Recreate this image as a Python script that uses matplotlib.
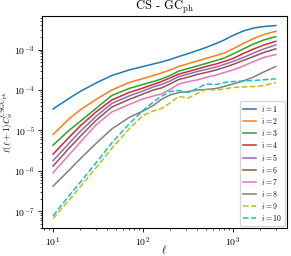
import numpy as np
import matplotlib
matplotlib.use("Agg")
import matplotlib.pyplot as plt

plt.rcParams['font.family'] = 'serif'
plt.rcParams['font.serif'] = ['cmr10', 'DejaVu Serif']
plt.rcParams['mathtext.fontset'] = 'cm'
plt.rcParams['axes.formatter.use_mathtext'] = True

# multipoles
ell = [10, 15, 20, 30, 45, 70, 100, 130, 160, 200, 250, 320, 400, 500,
       650, 800, 1000, 1300, 1700, 2200, 3000]

# l(l+1) C_ii for each tomographic bin
c1 = [3.40e-5, 6.17e-5, 9.18e-5, 1.49e-4, 2.28e-4, 3.12e-4, 3.80e-4, 4.39e-4, 4.91e-4, 5.66e-4,
      6.71e-4, 7.96e-4, 9.44e-4, 1.12e-3, 1.41e-3, 1.72e-3, 2.22e-3, 2.86e-3, 3.40e-3, 3.70e-3, 3.92e-3]
c2 = [7.96e-6, 1.92e-5, 3.21e-5, 5.83e-5, 1.00e-4, 1.53e-4, 1.92e-4, 2.28e-4, 2.63e-4, 3.12e-4,
      3.80e-4, 4.51e-4, 5.20e-4, 6.00e-4, 7.11e-4, 8.20e-4, 1.04e-3, 1.41e-3, 1.87e-3, 2.34e-3, 2.83e-3]
c3 = [4.34e-6, 1.00e-5, 1.67e-5, 3.49e-5, 7.31e-5, 1.09e-4, 1.37e-4, 1.62e-4, 1.87e-4, 2.28e-4,
      2.94e-4, 3.40e-4, 3.92e-4, 4.51e-4, 5.36e-4, 6.17e-4, 7.74e-4, 1.03e-3, 1.37e-3, 1.72e-3, 2.09e-3]
c4 = [2.60e-6, 6.71e-6, 1.29e-5, 2.86e-5, 5.66e-5, 8.67e-5, 1.12e-4, 1.37e-4, 1.62e-4, 1.98e-4,
      2.48e-4, 2.86e-4, 3.30e-4, 3.80e-4, 4.39e-4, 5.06e-4, 6.00e-4, 7.96e-4, 1.03e-3, 1.29e-3, 1.60e-3]
c5 = [1.79e-6, 4.77e-6, 9.44e-6, 2.22e-5, 4.65e-5, 7.11e-5, 9.44e-5, 1.19e-4, 1.37e-4, 1.67e-4,
      2.15e-4, 2.48e-4, 2.86e-4, 3.21e-4, 3.70e-4, 4.27e-4, 5.06e-4, 6.35e-4, 8.20e-4, 1.03e-3, 1.31e-3]
c6 = [1.32e-6, 3.60e-6, 7.11e-6, 1.77e-5, 3.80e-5, 5.83e-5, 7.96e-5, 1.00e-4, 1.12e-4, 1.41e-4,
      1.82e-4, 2.09e-4, 2.42e-4, 2.70e-4, 3.12e-4, 3.60e-4, 4.27e-4, 5.36e-4, 6.71e-4, 8.43e-4, 1.04e-3]
c7 = [9.04e-7, 2.48e-6, 5.06e-6, 1.37e-5, 2.86e-5, 4.39e-5, 6.00e-5, 7.11e-5, 7.96e-5, 1.03e-4,
      1.41e-4, 1.62e-4, 1.77e-4, 2.04e-4, 2.34e-4, 2.70e-4, 3.12e-4, 3.92e-4, 5.06e-4, 6.35e-4, 7.53e-4]
c8 = [4.22e-7, 1.03e-6, 1.98e-6, 4.77e-6, 1.09e-5, 2.09e-5, 3.03e-5, 4.14e-5, 5.83e-5, 7.53e-5,
      8.67e-5, 9.18e-5, 1.00e-4, 1.03e-4, 1.09e-4, 1.22e-4, 1.41e-4, 1.67e-4, 2.09e-4, 2.79e-4, 3.80e-4]
c9 = [6.71e-8, 1.87e-7, 4.03e-7, 1.19e-6, 3.60e-6, 1.09e-5, 2.34e-5, 3.03e-5, 3.49e-5, 4.77e-5,
      6.92e-5, 6.35e-5, 8.20e-5, 1.03e-4, 1.00e-4, 1.06e-4, 1.15e-4, 1.19e-4, 1.22e-4, 1.29e-4, 1.53e-4]
c10 = [7.80e-8, 2.42e-7, 5.20e-7, 1.58e-6, 4.92e-6, 1.45e-5, 3.12e-5, 5.06e-5, 6.92e-5, 9.18e-5,
       9.73e-5, 8.67e-5, 1.09e-4, 1.41e-4, 1.37e-4, 1.53e-4, 1.62e-4, 1.67e-4, 1.72e-4, 1.79e-4, 1.89e-4]

series = [c1, c2, c3, c4, c5, c6, c7, c8, c9, c10]
colors = ['C0', 'C1', 'C2', 'C3', 'C4', 'C5', 'C6', 'C7', 'C8', 'C9']

fig = plt.figure(figsize=(2.91, 2.56), dpi=100)
ax = fig.add_axes([0.144, 0.109, 0.842, 0.829])

for i, (c, col) in enumerate(zip(series, colors)):
    ls = '--' if i >= 8 else '-'
    ax.plot(ell, c, color=col, ls=ls, lw=1.1, label=r'$i = %d$' % (i + 1))

ax.set_xscale('log')
ax.set_yscale('log')
ax.set_title(r'CS - GC$_{\rm ph}$', fontsize=9, pad=3)
ax.set_xlabel(r'$\ell$', fontsize=7.5, labelpad=0)
ax.set_ylabel(r'$\ell(\ell+1)C_{ii}^{\rm CSGC_{ph}}$', fontsize=6.5)
ax.yaxis.set_label_coords(-0.106, 0.5)
ax.xaxis.set_label_coords(0.5, -0.075)
ax.tick_params(labelsize=7, length=3, width=0.6, pad=2)
ax.tick_params(which='minor', length=1.7, width=0.5)
for s in ax.spines.values():
    s.set_linewidth(0.8)

ax.legend(loc='lower right', fontsize=5.6, labelspacing=0.25, handlelength=1.7,
          handletextpad=0.6, borderpad=0.4, borderaxespad=0.3, framealpha=0.8)

fig.savefig('out.png', dpi=100)
